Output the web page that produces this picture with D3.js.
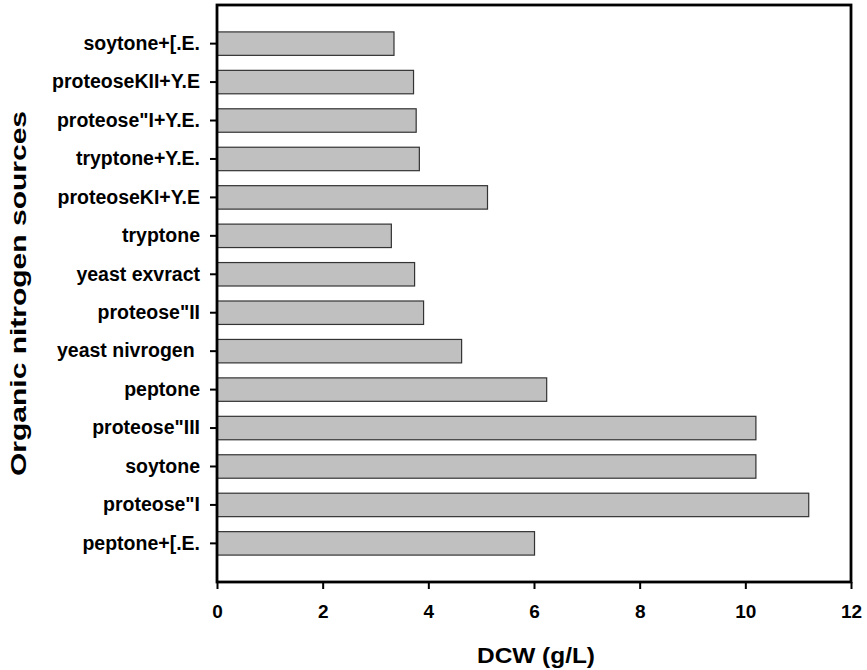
<!DOCTYPE html>
<html>
<head>
    <title>Organic nitrogen sources - DCW</title>
    <script src="https://cdn.jsdelivr.net/npm/d3@7"></script>
    <style>
        body { margin: 0; background: #fff; }
        text { font-family: "Liberation Sans", Arial, sans-serif; font-weight: bold; fill: #000; }
    </style>
</head>
<body>
    <svg width="867" height="670" id="mainsvg"></svg>
    <script>
        // 数据: 从上到下
        const categories = ['soytone+[.E.', 'proteoseKII+Y.E', 'proteose"I+Y.E.', 'tryptone+Y.E.',
            'proteoseKI+Y.E', 'tryptone', 'yeast exvract', 'proteose"II', 'yeast nivrogen ',
            'peptone', 'proteose"III', 'soytone', 'proteose"I', 'peptone+[.E.'];
        const dcw = [3.35, 3.72, 3.77, 3.83, 5.12, 3.30, 3.74, 3.91, 4.63, 6.24, 10.2, 10.2, 11.2, 6.01];
        const xTicks = [0, 2, 4, 6, 8, 10, 12];

        const svg = d3.select('svg');
        const margin = {left: 217, right: 16, top: 5, bottom: 88};
        const width = +svg.attr('width');
        const height = +svg.attr('height');
        const innerW = width - margin.left - margin.right;
        const innerH = height - margin.top - margin.bottom;

        const data = categories.map((c, i) => ({name: c, value: dcw[i]}));

        const x = d3.scaleLinear().domain([0, 12]).range([0, innerW]);
        const y = d3.scaleBand().domain(categories).range([0, innerH])
            .paddingInner(0.39).paddingOuter(0.7);

        const g = svg.append('g').attr('transform', `translate(${margin.left}, ${margin.top})`);

        // 柱子
        g.selectAll('rect.bar').data(data).join('rect')
            .attr('class', 'bar')
            .attr('x', 0)
            .attr('y', d => y(d.name))
            .attr('width', d => x(d.value))
            .attr('height', y.bandwidth())
            .attr('fill', '#c0c0c0')
            .attr('stroke', '#333')
            .attr('stroke-width', 1.2);

        // 坐标轴
        const xAxis = g.append('g').attr('transform', `translate(0, ${innerH})`)
            .call(d3.axisBottom(x).tickValues(xTicks).tickFormat(d3.format('d'))
                .tickSize(7).tickPadding(16));
        xAxis.select('.domain').remove();
        xAxis.selectAll('line').attr('stroke', '#000').attr('stroke-width', 2);
        xAxis.selectAll('text').style('font-size', '19px');

        const yAxis = g.append('g')
            .call(d3.axisLeft(y).tickSize(7).tickPadding(10));
        yAxis.select('.domain').remove();
        yAxis.selectAll('line').attr('stroke', '#000').attr('stroke-width', 2);
        yAxis.selectAll('text').style('font-size', '19.5px').style('white-space', 'pre');

        // 边框
        g.append('rect')
            .attr('x', 0).attr('y', 0)
            .attr('width', innerW).attr('height', innerH)
            .attr('fill', 'none')
            .attr('stroke', '#000')
            .attr('stroke-width', 2.8);

        // 标题
        svg.append('text')
            .attr('x', margin.left + innerW / 2 + 2)
            .attr('y', 663)
            .attr('text-anchor', 'middle')
            .style('font-size', '22px')
            .attr('textLength', 118)
            .attr('lengthAdjust', 'spacingAndGlyphs')
            .text('DCW (g/L)');

        svg.append('text')
            .attr('transform', `translate(26, ${margin.top + innerH / 2}) rotate(-90)`)
            .attr('text-anchor', 'middle')
            .style('font-size', '22px')
            .attr('textLength', 365)
            .attr('lengthAdjust', 'spacingAndGlyphs')
            .text('Organic nitrogen sources');
    </script>
</body>
</html>
